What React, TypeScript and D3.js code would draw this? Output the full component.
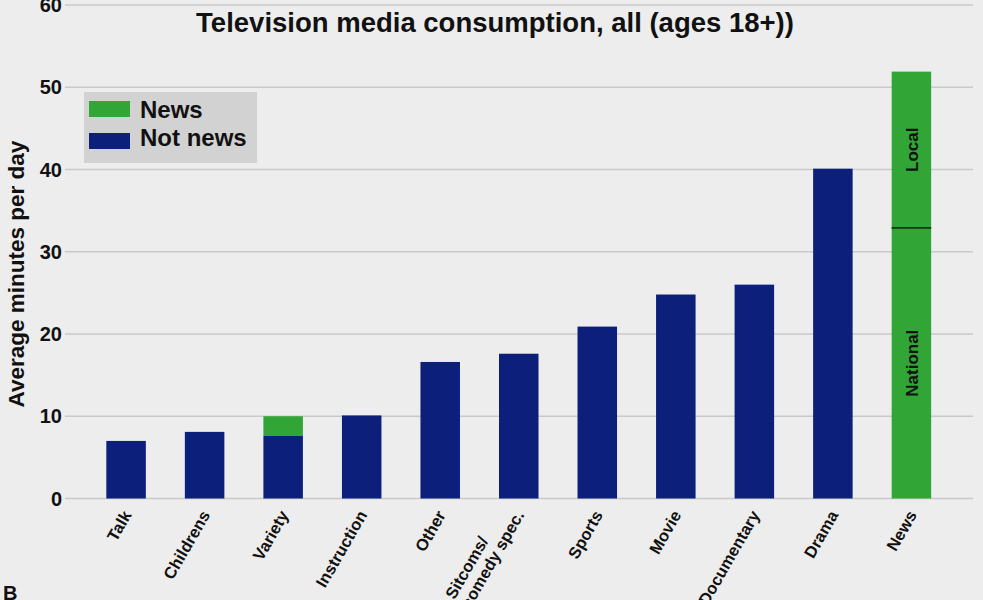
import React from "react";
import * as d3 from "d3";

const categories = ["Talk", "Childrens", "Variety", "Instruction", "Other", "Sitcoms/\ncomedy spec.", "Sports", "Movie", "Documentary", "Drama", "News"];
const notNews = [7.0, 8.1, 7.6, 10.1, 16.6, 17.6, 20.9, 24.8, 26.0, 40.1, 0];
const news = [0, 0, 2.4, 0, 0, 0, 0, 0, 0, 0, 51.9];
const newsSubLabels = ["National", "Local"];
const newsSubValues = [32.9, 19.0];
const yTicks = [0, 10, 20, 30, 40, 50, 60];
const legendItems = ["News", "Not news"];

const W = 983;
const H = 600;
const BLUE = "#0b1f7b";
const GREEN = "#31a535";
const FONT = "'Liberation Sans', Arial, Helvetica, sans-serif";
const XFS = 16.5;

export default function App() {
  const x = d3.scaleBand<string>().domain(categories).range([86.7, 950.8]).paddingInner(0.497).paddingOuter(0.25);
  const y = d3.scaleLinear().domain([0, 60]).range([498.5, 5]);
  const bw = x.bandwidth();
  const newsIdx = categories.length - 1;
  const newsX = x(categories[newsIdx])!;
  let cum = 0;
  const subs = newsSubValues.map((v, i) => {
    const s = { label: newsSubLabels[i], y0: cum, y1: cum + v };
    cum += v;
    return s;
  });

  return (
    <svg width={W} height={H} style={{ position: "absolute", left: 0, top: 0, background: "#ededed" }} fontFamily={FONT}>
      <rect x={0} y={0} width={W} height={H} fill="#ededed" />
      {yTicks.map((t) => (
        <g key={t}>
          <line x1={65} x2={973} y1={y(t)} y2={y(t)} stroke="#c9c9c9" strokeWidth={1.6} />
          <text x={62} y={y(t)} dy="0.36em" textAnchor="end" fontSize={20} fontWeight="bold" fill="#111">{t}</text>
        </g>
      ))}
      {categories.map((c, i) => (
        <g key={c}>
          {notNews[i] > 0 && (
            <rect x={x(c)!} y={y(notNews[i])} width={bw} height={y(0) - y(notNews[i])} fill={BLUE} />
          )}
          {news[i] > 0 && (
            <rect x={x(c)!} y={y(notNews[i] + news[i])} width={bw} height={y(notNews[i]) - y(notNews[i] + news[i])} fill={GREEN} />
          )}
        </g>
      ))}
      {subs.map((s, i) => (
        <g key={s.label}>
          {i > 0 && <line x1={newsX} x2={newsX + bw} y1={y(s.y0)} y2={y(s.y0)} stroke="#0c3a10" strokeWidth={1.6} />}
          <text
            transform={`translate(${newsX + bw / 2},${(y(s.y0) + y(s.y1)) / 2}) rotate(-90)`}
            textAnchor="middle"
            dy="0.36em"
            fontSize={17}
            fontWeight="bold"
            fill="#111"
          >
            {s.label}
          </text>
        </g>
      ))}
      {categories.map((c) => {
        const lines = c.split("\n");
        const n = lines.length;
        const cx = x(c)! + bw / 2;
        const longest = 6.614 * XFS;
        return (
          <g key={c} transform={`translate(${cx + 1},${512}) rotate(-60)`}>
            {lines.map((l, j) => (
              <text
                key={j}
                x={n > 1 && j < n - 1 ? -longest : 0}
                y={0}
                dy={`${0.35 - (n - 1 - j) * 1.1}em`}
                textAnchor={n > 1 && j < n - 1 ? "start" : "end"}
                fontSize={XFS}
                fontWeight="bold"
                fill="#111"
              >
                {l}
              </text>
            ))}
          </g>
        );
      })}
      <text x={495} y={32} textAnchor="middle" fontSize={27.5} fontWeight="bold" fill="#111">Television media consumption, all (ages 18+))</text>
      <text transform={`translate(24,274) rotate(-90)`} textAnchor="middle" fontSize={22.5} fontWeight="bold" fill="#111">Average minutes per day</text>
      <rect x={84} y={92} width={173} height={71} fill="#d2d2d2" />
      {legendItems.map((l, i) => (
        <g key={l}>
          <rect x={89} y={101 + i * 32} width={41} height={16} fill={i === 0 ? GREEN : BLUE} />
          <text x={140} y={118 + i * 28} fontSize={24} fontWeight="bold" fill="#111">{l}</text>
        </g>
      ))}
      <text x={3} y={600} fontSize={20} fontWeight="bold" fill="#111">B</text>
    </svg>
  );
}
